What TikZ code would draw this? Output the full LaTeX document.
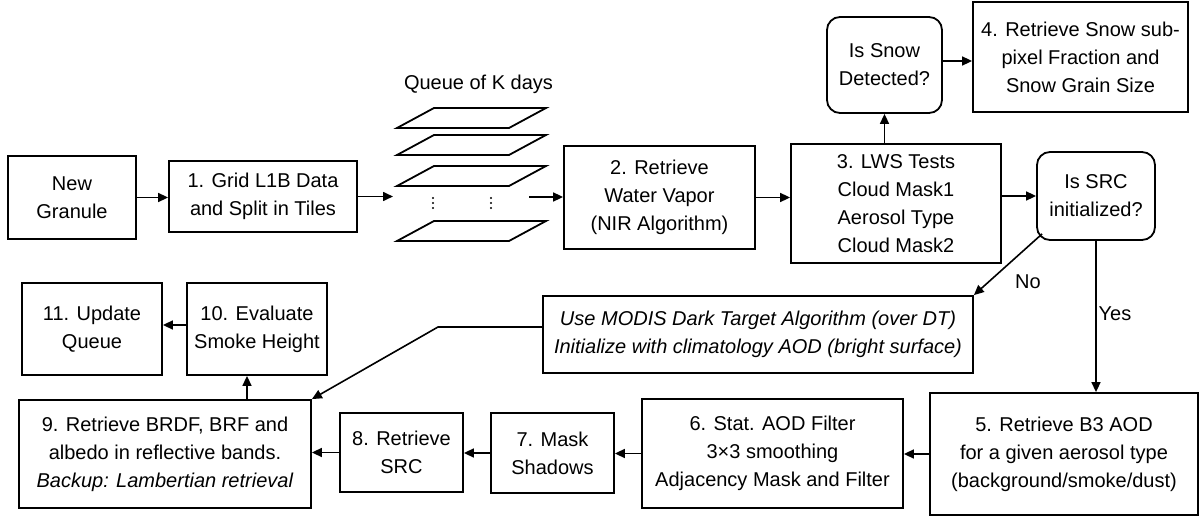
\documentclass[tikz,border=0pt]{standalone}
\usepackage{fontspec}
\setmainfont{Liberation Sans}
\usetikzlibrary{arrows.meta}

\begin{document}
\begin{tikzpicture}[x=0.5pt, y=-0.5pt,
    box/.style={draw, line width=0.9pt, align=center, inner sep=0pt, font=\fontsize{10}{14}\selectfont},
    decision/.style={box, rounded corners=6.5pt},
    flow/.style={-{Triangle[length=5pt,width=4.5pt]}, line width=0.8pt},
    tag/.style={font=\fontsize{10}{14}\selectfont, inner sep=0pt}]
  \useasboundingbox (0,0) rectangle (1200,519);

  % Top row
  \node[box, minimum width=64pt, minimum height=41.5pt] (granule) at (72,197.5) {New\\Granule};
  \node[box, minimum width=94pt, minimum height=35.5pt] (grid) at (263,196.5) {1. Grid L1B Data\\and Split in Tiles};
  \node[tag] (qlabel) at (478.5,84) {Queue of K days};
  \foreach \t in {108,135,166,221}
    \draw[line width=0.9pt] (397,\t+20) -- (509,\t+20) -- (546,\t) -- (434,\t) -- cycle;
  \foreach \x in {433,491}
    \foreach \y in {198,203,208}
      \fill (\x,\y) circle (0.55pt);
  \coordinate (qin) at (393,197);
  \coordinate (qout) at (529,197);
  \node[box, minimum width=95.5pt, minimum height=51.5pt] (vapor) at (659.5,197.5) {2. Retrieve\\Water Vapor\\(NIR Algorithm)};
  \node[box, minimum width=105pt, minimum height=59.5pt] (lws) at (896,203.5) {3. LWS Tests\\Cloud Mask1\\Aerosol Type\\Cloud Mask2};
  \node[decision, minimum width=57.5pt, minimum height=48pt] (snow) at (884.5,65) {Is Snow\\Detected?};
  \node[box, minimum width=107.5pt, minimum height=55pt] (grain) at (1080.5,57) {4. Retrieve Snow sub-\\pixel Fraction and\\Snow Grain Size};
  \node[decision, minimum width=59pt, minimum height=44pt] (src) at (1096,196) {Is SRC\\initialized?};

  % Middle and bottom rows
  \node[box, font=\fontsize{10}{14}\selectfont\itshape, minimum width=215pt, minimum height=38.5pt] (dark) at (758,334.5) {Use MODIS Dark Target Algorithm (over DT)\\Initialize with climatology AOD (bright surface)};
  \node[box, minimum width=134pt, minimum height=61pt] (aod) at (1064,454) {5. Retrieve B3 AOD\\for a given aerosol type\\(background/smoke/dust)};
  \node[box, minimum width=130.5pt, minimum height=54.5pt] (filter) at (772.5,453.5) {6. Stat. AOD Filter\\3×3 smoothing\\Adjacency Mask and Filter};
  \node[box, minimum width=61.5pt, minimum height=40pt] (shadow) at (552.5,453) {7. Mask\\Shadows};
  \node[box, minimum width=61.5pt, minimum height=39.5pt] (srcret) at (401.5,452.5) {8. Retrieve\\SRC};
  \node[box, minimum width=146pt, minimum height=54pt] (brdf) at (165,454) {9. Retrieve BRDF, BRF and\\albedo in reflective bands.\\\textit{Backup: Lambertian retrieval}};
  \node[box, minimum width=70pt, minimum height=46pt] (smoke) at (257,329) {10. Evaluate\\Smoke Height};
  \node[box, minimum width=70pt, minimum height=46pt] (update) at (92,329) {11. Update\\Queue};
  \node[tag] (no) at (1028,282) {No};
  \node[tag] (yes) at (1115,314) {Yes};
  \coordinate (bend) at (438,327);

  % Arrows
  \draw[flow] (granule.east) -- (granule.east -| grid.west);
  \draw[flow] (grid.east) -- (grid.east -| qin);
  \draw[flow] (qout) -- (qout -| vapor.west);
  \draw[flow] (vapor.east) -- (vapor.east -| lws.west);
  \draw[flow] (snow.south |- lws.north) -- (snow.south);
  \draw[flow] ([yshift=2pt]snow.east) -- ([yshift=2pt]snow.east -| grain.west);
  \draw[flow] (src.west -| lws.east) -- (src.west);
  \draw[flow] ([shift={(6,-7)}]src.south west) -- (dark.north east);
  \draw[flow] (src.south) -- (src.south |- aod.north);
  \draw[flow] (aod.west) -- (aod.west -| filter.east);
  \draw[flow] (filter.west) -- (filter.west -| shadow.east);
  \draw[flow] (shadow.west) -- (shadow.west -| srcret.east);
  \draw[flow] (srcret.west) -- (srcret.west -| brdf.east);
  \draw[flow] (dark.west |- bend) -- (bend) -- (brdf.north east);
  \draw[flow] ([xshift=-5pt]brdf.north -| smoke.south) -- ([xshift=-5pt]smoke.south);
  \draw[flow] ([yshift=2pt]smoke.west) -- ([yshift=2pt]smoke.west -| update.east);
\end{tikzpicture}
\end{document}
